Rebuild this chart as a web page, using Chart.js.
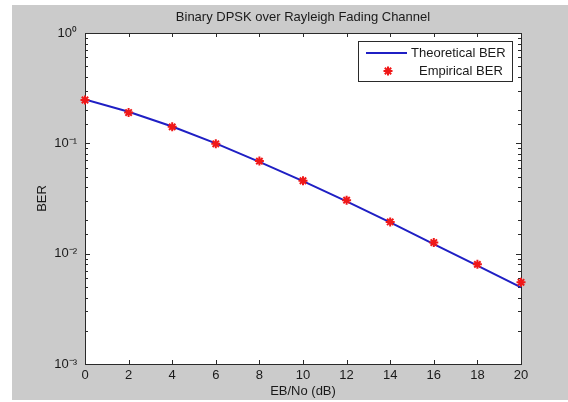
<!DOCTYPE html>
<html>
<head>
<meta charset="utf-8">
<script src="https://cdn.jsdelivr.net/npm/chart.js@4/dist/chart.umd.min.js"></script>
<style>
    html, body { margin: 0; padding: 0; background: #fff; }
    #wrap { width: 568px; height: 402px; }
</style>
</head>
<body>
<div id="wrap"><canvas id="berChart" width="568" height="402"></canvas></div>
<script>
// Data
const ebno = [0, 2, 4, 6, 8, 10, 12, 14, 16, 18, 20];
const berTheory = [0.25, 0.193, 0.142, 0.1, 0.068, 0.0455, 0.0298, 0.0192, 0.0122, 0.0078, 0.00495];
const berEmpirical = [0.247, 0.19, 0.141, 0.099, 0.069, 0.0458, 0.0305, 0.0194, 0.0126, 0.008, 0.0055];
const xTicks = [0, 2, 4, 6, 8, 10, 12, 14, 16, 18, 20];
const yTickValues = [1, 0.1, 0.01, 0.001];
const yTickLabels = ['10⁰', '10⁻¹', '10⁻²', '10⁻³'];

const FONT = '"Liberation Sans", Arial, sans-serif';
const AXIS_COLOR = '#2a2a2a';

function isDecade(v) {
    return yTickValues.findIndex(t => Math.abs(Math.log10(v) - Math.log10(t)) < 1e-6);
}

// Gray figure, white axes, inward ticks and box, legend inside the axes
const figurePlugin = {
    id: 'figure',
    beforeDraw(chart) {
        const ctx = chart.ctx, a = chart.chartArea;
        ctx.save();
        ctx.fillStyle = '#cbcbcb';
        ctx.fillRect(12, 5, 556, 395);
        ctx.fillStyle = '#fff';
        ctx.fillRect(a.left, a.top, a.right - a.left, a.bottom - a.top);
        ctx.restore();
    },
    beforeDatasetsDraw(chart) {
        const ctx = chart.ctx, a = chart.chartArea;
        const xs = chart.scales.x, ys = chart.scales.y;
        ctx.save();
        ctx.strokeStyle = AXIS_COLOR;
        ctx.lineWidth = 1;
        ctx.beginPath();
        xs.ticks.forEach(t => {
            const px = Math.round(xs.getPixelForValue(t.value)) + 0.5;
            ctx.moveTo(px, a.bottom); ctx.lineTo(px, a.bottom - 4);
            ctx.moveTo(px, a.top); ctx.lineTo(px, a.top + 4);
        });
        ys.ticks.forEach(t => {
            const py = Math.round(ys.getPixelForValue(t.value)) + 0.5;
            const len = isDecade(t.value) >= 0 ? 5 : 3;
            ctx.moveTo(a.left, py); ctx.lineTo(a.left + len, py);
            ctx.moveTo(a.right, py); ctx.lineTo(a.right - len, py);
        });
        ctx.stroke();
        ctx.strokeRect(Math.round(a.left) + 0.5, Math.round(a.top) + 0.5,
            Math.round(a.right - a.left), Math.round(a.bottom - a.top));
        ctx.restore();
    },
    afterDraw(chart) {
        const ctx = chart.ctx;
        const ds = chart.data.datasets;
        ctx.save();
        ctx.fillStyle = '#fff';
        ctx.fillRect(358, 41, 154, 40);
        ctx.strokeStyle = AXIS_COLOR;
        ctx.lineWidth = 1;
        ctx.strokeRect(358.5, 41.5, 154, 40);

        ctx.strokeStyle = ds[0].borderColor;
        ctx.lineWidth = 2;
        ctx.beginPath();
        ctx.moveTo(366, 53); ctx.lineTo(407, 53);
        ctx.stroke();

        ctx.strokeStyle = ds[1].borderColor;
        ctx.fillStyle = ds[1].backgroundColor;
        Chart.helpers.drawPoint(ctx, {
            pointStyle: ds[1].pointStyle, radius: ds[1].pointRadius,
            borderWidth: ds[1].pointBorderWidth, rotation: 0
        }, 388, 71);

        ctx.fillStyle = '#1a1a1a';
        ctx.font = '13px ' + FONT;
        ctx.textBaseline = 'middle';
        ctx.fillText(ds[0].label, 411, 53);
        ctx.fillText(ds[1].label, 419, 71);
        ctx.restore();
    }
};

new Chart(document.getElementById('berChart'), {
    type: 'line',
    data: {
        datasets: [
            {
                label: 'Theoretical BER',
                data: ebno.map((x, i) => ({ x: x, y: berTheory[i] })),
                borderColor: '#1f1fc4',
                borderWidth: 2,
                pointRadius: 0,
                tension: 0,
                order: 2
            },
            {
                label: 'Empirical BER',
                data: ebno.map((x, i) => ({ x: x, y: berEmpirical[i] })),
                showLine: false,
                borderColor: '#f01818',
                backgroundColor: '#f01818',
                pointStyle: 'star',
                pointRadius: 4.5,
                pointBorderWidth: 2,
                clip: false,
                order: 1
            }
        ]
    },
    options: {
        responsive: false,
        animation: false,
        devicePixelRatio: 1,
        layout: { padding: { left: 0, right: 47, top: 0, bottom: 0 } },
        plugins: {
            legend: { display: false },
            tooltip: { enabled: false },
            title: {
                display: true,
                fullSize: false,
                text: 'Binary DPSK over Rayleigh Fading Channel',
                color: '#1a1a1a',
                font: { family: FONT, size: 13, weight: 'normal', lineHeight: 1.2 },
                padding: { top: 10, bottom: 7.4 }
            }
        },
        scales: {
            x: {
                type: 'linear',
                min: 0,
                max: 20,
                afterBuildTicks: s => { s.ticks = xTicks.map(v => ({ value: v })); },
                afterFit: s => { s.height = 38; },
                grid: { display: false, drawTicks: false },
                border: { display: false },
                ticks: {
                    padding: 4,
                    color: '#1a1a1a',
                    font: { family: FONT, size: 13 },
                    maxRotation: 0
                },
                title: {
                    display: true,
                    text: 'EB/No (dB)',
                    color: '#1a1a1a',
                    font: { family: FONT, size: 13 },
                    padding: { top: 0, bottom: 3 }
                }
            },
            y: {
                type: 'logarithmic',
                min: 0.001,
                max: 1,
                afterFit: s => { s.width = 85; },
                grid: { display: false, drawTicks: false },
                border: { display: false },
                ticks: {
                    autoSkip: false,
                    padding: 8,
                    color: '#1a1a1a',
                    font: { family: FONT, size: 13 },
                    callback: v => {
                        const i = isDecade(v);
                        return i >= 0 ? yTickLabels[i] : '';
                    }
                },
                title: {
                    display: true,
                    text: 'BER',
                    color: '#1a1a1a',
                    font: { family: FONT, size: 13 },
                    padding: { top: 35, bottom: 0 }
                }
            }
        }
    },
    plugins: [figurePlugin]
});
</script>
</body>
</html>
